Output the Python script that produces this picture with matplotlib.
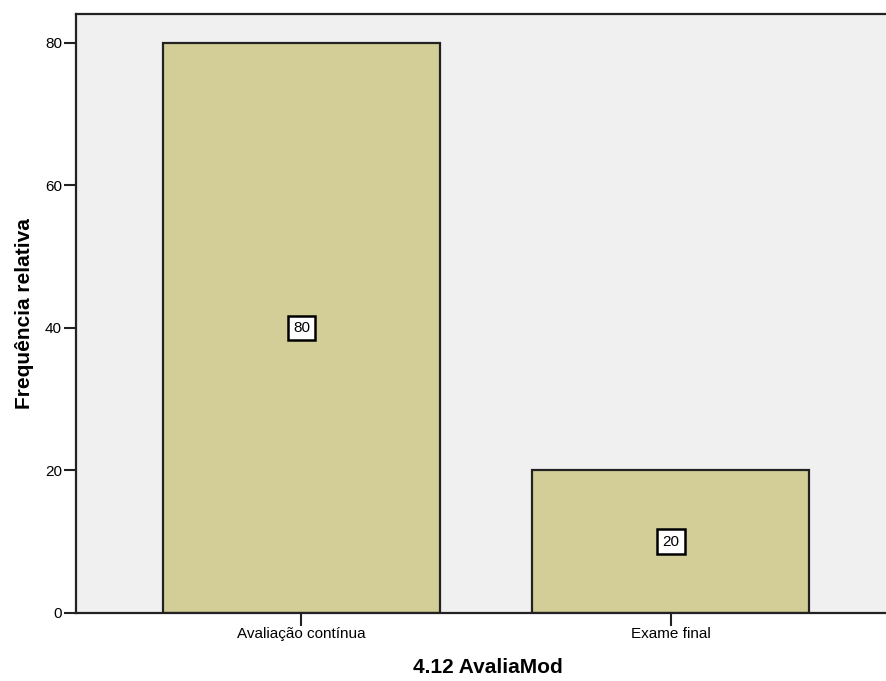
import matplotlib.pyplot as plt

categories = ['Avaliação contínua', 'Exame final']
values = [80, 20]
yticks = [0, 20, 40, 60, 80]

plt.rcParams['font.family'] = ['Liberation Sans', 'DejaVu Sans']

fig = plt.figure(figsize=(8.87, 6.81), dpi=100)
ax = fig.add_axes([76 / 887, 68 / 681, 1 - 76 / 887, (613 - 14) / 681])
ax.set_facecolor('#F0F0F0')

x = list(range(len(categories)))
ax.bar(x, values, width=0.75, color='#D3CE97', edgecolor='#222222', linewidth=1.6, zorder=2)

for xi, v in zip(x, values):
    ax.text(xi, v / 2, str(v), ha='center', va='center', fontsize=11, zorder=3,
            bbox=dict(boxstyle='square,pad=0.35', facecolor='white', edgecolor='black', linewidth=1.8))

ax.set_xlim(-0.61, 1.585)
ax.set_ylim(0, 84.07)
ax.set_xticks(x)
ax.set_xticklabels(categories, fontsize=11)
ax.set_yticks(yticks)
ax.set_yticklabels([str(t) for t in yticks], fontsize=11)
ax.tick_params(axis='both', direction='out', length=9, width=1.5, color='#222222', pad=1)

for side in ['left', 'top', 'bottom']:
    ax.spines[side].set_linewidth(1.6)
    ax.spines[side].set_color('#222222')
ax.spines['right'].set_visible(False)

ax.set_ylabel('Frequência relativa', fontsize=15, fontweight='bold', labelpad=8)
ax.set_xlabel('4.12 AvaliaMod', fontsize=15, fontweight='bold')
ax.xaxis.set_label_coords((488 - 76) / (887 - 76), -0.075)

fig.savefig('out.png', dpi=100)
